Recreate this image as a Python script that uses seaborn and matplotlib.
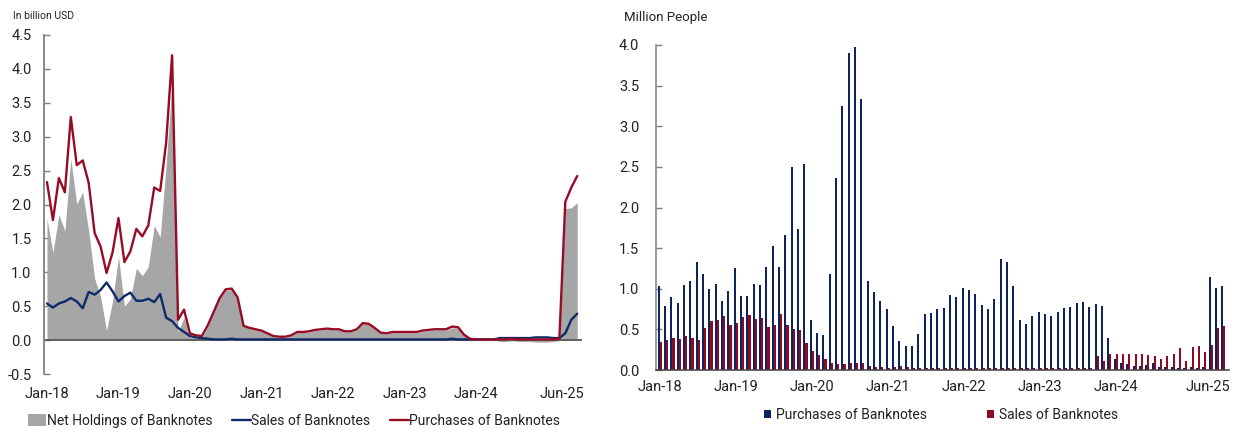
import numpy as np
import pandas as pd
import matplotlib
matplotlib.use("Agg")
import matplotlib.pyplot as plt
import matplotlib.transforms as mtransforms
from matplotlib.patches import Patch
from matplotlib.lines import Line2D
import seaborn as sns

# ---------------- data ----------------
months = pd.date_range("2018-01-01", "2025-06-01", freq="MS")
month_labels = [d.strftime("%b-%y") for d in months]
tick_labels = ["Jan-18", "Jan-19", "Jan-20", "Jan-21", "Jan-22", "Jan-23", "Jan-24", "Jun-25"]

# Left chart (billion USD)
purchases_usd = [
    2.33, 1.77, 2.39, 2.18, 3.29, 2.58, 2.65, 2.32, 1.58, 1.38, 0.99, 1.29,
    1.80, 1.15, 1.31, 1.64, 1.53, 1.69, 2.25, 2.20, 2.91, 4.20, 0.30, 0.45,
    0.10, 0.07, 0.06, 0.22, 0.42, 0.62, 0.75, 0.76, 0.63, 0.21, 0.18, 0.16,
    0.14, 0.10, 0.06, 0.05, 0.05, 0.07, 0.12, 0.12, 0.13, 0.15, 0.16, 0.17,
    0.16, 0.16, 0.13, 0.13, 0.16, 0.25, 0.24, 0.18, 0.11, 0.10, 0.12, 0.12,
    0.12, 0.12, 0.12, 0.14, 0.15, 0.16, 0.16, 0.16, 0.20, 0.19, 0.08, 0.02,
    0.01, 0.01, 0.01, 0.01, 0.01, 0.01, 0.02, 0.01, 0.01, 0.01, 0.01, 0.01,
    0.01, 0.01, 0.02, 2.04, 2.25, 2.42]
sales_usd = [
    0.54, 0.48, 0.54, 0.57, 0.62, 0.57, 0.47, 0.71, 0.67, 0.74, 0.85, 0.72,
    0.57, 0.65, 0.70, 0.58, 0.58, 0.61, 0.56, 0.68, 0.33, 0.28, 0.18, 0.12,
    0.06, 0.04, 0.03, 0.02, 0.01, 0.01, 0.01, 0.02, 0.01, 0.01, 0.01, 0.01,
    0.01, 0.01, 0.01, 0.01, 0.01, 0.01, 0.01, 0.01, 0.01, 0.01, 0.01, 0.01,
    0.01, 0.01, 0.01, 0.01, 0.01, 0.01, 0.01, 0.01, 0.01, 0.01, 0.01, 0.01,
    0.01, 0.01, 0.01, 0.01, 0.01, 0.01, 0.01, 0.01, 0.02, 0.01, 0.01, 0.01,
    0.01, 0.01, 0.01, 0.01, 0.03, 0.03, 0.03, 0.03, 0.03, 0.03, 0.04, 0.04,
    0.04, 0.03, 0.03, 0.10, 0.30, 0.39]
net_usd = [
    1.79, 1.29, 1.85, 1.61, 2.67, 2.01, 2.18, 1.61, 0.91, 0.64, 0.14, 0.57,
    1.23, 0.50, 0.61, 1.06, 0.95, 1.08, 1.69, 1.52, 2.58, 3.80, 0.12, 0.33,
    0.04, 0.03, 0.03, 0.20, 0.41, 0.61, 0.74, 0.74, 0.62, 0.20, 0.17, 0.15,
    0.13, 0.09, 0.05, 0.04, 0.04, 0.06, 0.11, 0.11, 0.12, 0.14, 0.15, 0.16,
    0.15, 0.15, 0.12, 0.12, 0.15, 0.24, 0.23, 0.17, 0.10, 0.09, 0.11, 0.11,
    0.11, 0.11, 0.11, 0.13, 0.14, 0.15, 0.15, 0.15, 0.18, 0.18, 0.07, 0.01,
    0.00, 0.00, 0.00, 0.00, -0.02, -0.02, -0.01, -0.02, -0.02, -0.02, -0.03, -0.03,
    -0.03, -0.02, -0.01, 1.94, 1.95, 2.03]

# Right chart (million people)
purchases_people = [
    1.03, 0.79, 0.90, 0.82, 1.05, 1.09, 1.33, 1.18, 1.00, 1.06, 0.85, 0.97,
    1.25, 0.91, 0.91, 1.06, 1.05, 1.27, 1.53, 1.27, 1.66, 2.50, 1.73, 2.54,
    0.61, 0.45, 0.43, 1.18, 2.36, 3.25, 3.90, 3.97, 3.34, 1.10, 0.96, 0.85,
    0.75, 0.54, 0.36, 0.30, 0.30, 0.44, 0.69, 0.70, 0.75, 0.76, 0.92, 0.90,
    1.01, 0.99, 0.93, 0.80, 0.75, 0.88, 1.37, 1.33, 1.04, 0.62, 0.57, 0.66,
    0.72, 0.69, 0.67, 0.72, 0.76, 0.78, 0.82, 0.84, 0.77, 0.81, 0.79, 0.39,
    0.14, 0.09, 0.07, 0.05, 0.05, 0.06, 0.09, 0.04, 0.04, 0.04, 0.02, 0.03,
    0.04, 0.03, 0.04, 1.15, 1.01, 1.03]
sales_people = [
    0.35, 0.37, 0.40, 0.38, 0.42, 0.40, 0.37, 0.52, 0.60, 0.62, 0.67, 0.56,
    0.58, 0.65, 0.68, 0.63, 0.64, 0.53, 0.55, 0.69, 0.55, 0.51, 0.49, 0.33,
    0.23, 0.18, 0.14, 0.09, 0.08, 0.08, 0.09, 0.09, 0.09, 0.05, 0.04, 0.04,
    0.03, 0.04, 0.05, 0.04, 0.03, 0.02, 0.02, 0.02, 0.02, 0.02, 0.02, 0.02,
    0.02, 0.02, 0.02, 0.02, 0.02, 0.02, 0.02, 0.02, 0.02, 0.02, 0.02, 0.02,
    0.02, 0.02, 0.02, 0.02, 0.02, 0.02, 0.02, 0.02, 0.02, 0.17, 0.11, 0.20,
    0.20, 0.20, 0.20, 0.20, 0.20, 0.18, 0.17, 0.14, 0.17, 0.20, 0.27, 0.11,
    0.28, 0.29, 0.22, 0.31, 0.52, 0.54]

# ---------------- style ----------------
RED = "#970B25"
NAVY = "#0E2A69"
BAR_NAVY = "#0D2461"
BAR_RED = "#8E0A22"
GREY = "#A6A6A6"
TXT = "#222222"

sns.set_theme(style="white")
plt.rcParams["font.family"] = ["Roboto", "DejaVu Sans"]
plt.rcParams["axes.unicode_minus"] = False

fig = plt.figure(figsize=(12.39, 4.30), dpi=100)
W, H = 1239, 430

def axes_px(x0, x1, ytop, ybot):
    return fig.add_axes([x0 / W, (H - ybot) / H, (x1 - x0) / W, (ybot - ytop) / H])

idx = np.arange(len(months))
tick_idx = [month_labels.index(t) for t in tick_labels]

# ---------------- left chart ----------------
ax1 = axes_px(44, 582, 35, 374)
df_left = pd.DataFrame({"m": idx, "net": net_usd, "sales": sales_usd, "purch": purchases_usd})
ax1.fill_between(df_left["m"], 0, df_left["net"], color=GREY, lw=0, zorder=1)
ax1.axhline(0, color="#5A5A5A", lw=1.3, zorder=2)
sns.lineplot(data=df_left, x="m", y="sales", ax=ax1, color=NAVY, lw=1.7, zorder=3)
sns.lineplot(data=df_left, x="m", y="purch", ax=ax1, color=RED, lw=1.7, zorder=4)
ax1.set_xlim(-0.5, 89.8)
ax1.set_ylim(-0.5, 4.5)
ax1.set_yticks(np.arange(-0.5, 4.51, 0.5))
ax1.set_yticklabels([f"{v:.1f}" for v in np.arange(-0.5, 4.51, 0.5)])
ax1.set_xlabel("")
ax1.set_ylabel("")
for s in ["top", "right", "bottom"]:
    ax1.spines[s].set_visible(False)
ax1.spines["left"].set_color("#7F7F7F")
ax1.spines["left"].set_linewidth(1.3)
ax1.tick_params(axis="y", direction="in", length=4, width=1.0, color="#7F7F7F",
                labelsize=10.5, pad=9, labelcolor=TXT, left=True)
ax1.set_xticks(tick_idx)
ax1.set_xticklabels(tick_labels)
ax1.tick_params(axis="x", length=0, labelsize=10.5, pad=9, labelcolor=TXT)
fig.text(13 / W, 1 - 16 / H, "In billion USD", fontsize=7.5, color=TXT, va="center", ha="left")

leg_handles1 = [Patch(facecolor=GREY, edgecolor="none"),
                Line2D([0], [0], color=NAVY, lw=1.7),
                Line2D([0], [0], color=RED, lw=1.7)]
fig.legend(leg_handles1, ["Net Holdings of Banknotes", "Sales of Banknotes", "Purchases of Banknotes"],
           loc="center", bbox_to_anchor=(294 / W, 1 - 421 / H), ncol=3, frameon=False,
           fontsize=10, handlelength=1.35, handleheight=0.9, handletextpad=0.05,
           columnspacing=1.4, labelcolor=TXT)

# ---------------- right chart ----------------
ax2 = axes_px(656, 1229, 45, 370)
df_right = pd.DataFrame({
    "m": np.concatenate([idx, idx]),
    "value": purchases_people + sales_people,
    "series": ["Purchases of Banknotes"] * len(idx) + ["Sales of Banknotes"] * len(idx),
})
sns.barplot(data=df_right, x="m", y="value", hue="series",
            hue_order=["Purchases of Banknotes", "Sales of Banknotes"],
            palette=[BAR_NAVY, BAR_RED], width=0.66, dodge=True, errorbar=None,
            ax=ax2, legend=False, saturation=1, linewidth=0)
# crisp thin bars (pixel-snapped, no anti-aliasing)
for p in ax2.patches:
    p.set_antialiased(False)
ax2.set_xlim(-0.6, 89.9)
ax2.set_ylim(0, 4.0)
ax2.set_yticks(np.arange(0, 4.01, 0.5))
ax2.set_yticklabels([f"{v:.1f}" for v in np.arange(0, 4.01, 0.5)])
ax2.set_xlabel("")
ax2.set_ylabel("")
for s in ["top", "right"]:
    ax2.spines[s].set_visible(False)
ax2.spines["left"].set_color("#7F7F7F")
ax2.spines["left"].set_linewidth(1.1)
ax2.spines["bottom"].set_color("#404040")
ax2.spines["bottom"].set_linewidth(1.1)
ax2.tick_params(axis="y", direction="in", length=4, width=1.0, color="#7F7F7F",
                labelsize=10.5, pad=12, labelcolor=TXT, left=True)
ax2.set_xticks(tick_idx)
ax2.set_xticklabels(tick_labels)
ax2.tick_params(axis="x", length=0, labelsize=10.5, pad=7, labelcolor=TXT)
fig.text(624 / W, 1 - 18 / H, "Million People", fontsize=9.5, color=TXT, va="center", ha="left")

leg_handles2 = [Patch(facecolor=BAR_NAVY, edgecolor="none"),
                Patch(facecolor=BAR_RED, edgecolor="none")]
fig.legend(leg_handles2, ["Purchases of Banknotes", "Sales of Banknotes"],
           loc="center", bbox_to_anchor=(941 / W, 1 - 415 / H), ncol=2, frameon=False,
           fontsize=10, handlelength=0.55, handleheight=0.55, handletextpad=0.35,
           columnspacing=4.3, labelcolor=TXT)

# shift the final "Jun-25" label left, as in the reference
shift = mtransforms.ScaledTranslation(-15 / 100, 0, fig.dpi_scale_trans)
for ax in (ax1, ax2):
    lbl = ax.get_xticklabels()[-1]
    lbl.set_transform(lbl.get_transform() + shift)

fig.savefig("out.png", dpi=100)
